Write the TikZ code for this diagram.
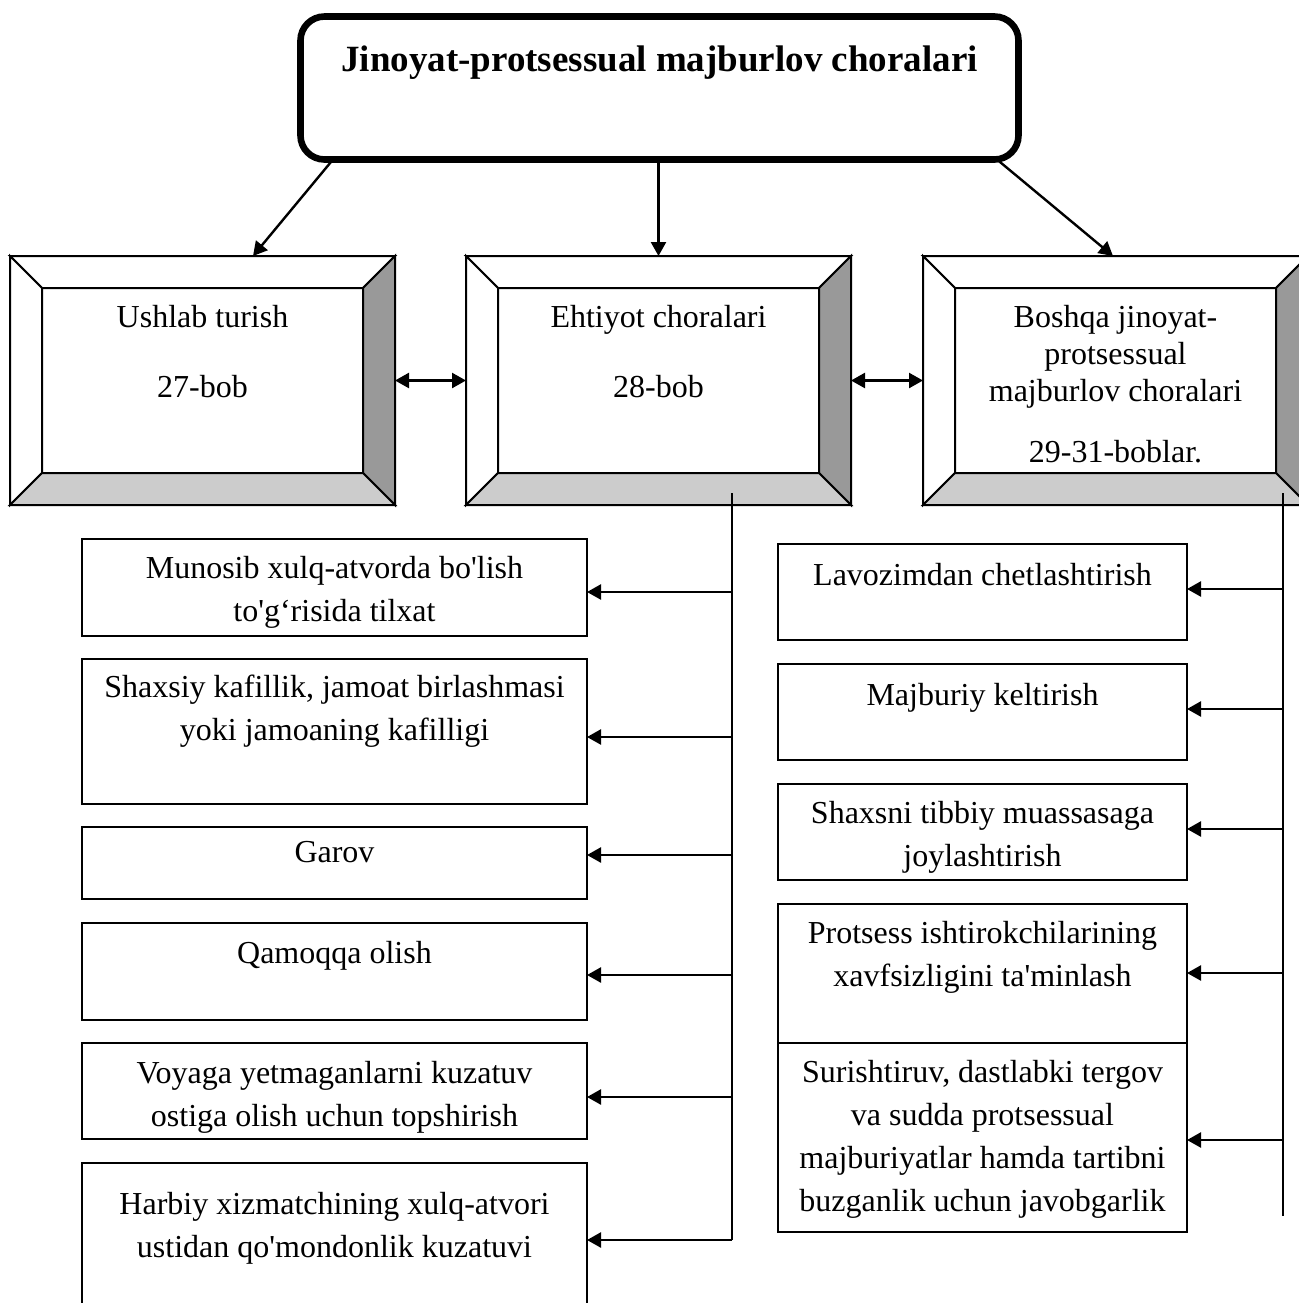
\documentclass[tikz,border=0pt]{standalone}
\usepackage{fontspec}
\setmainfont{Liberation Serif}
\usetikzlibrary{arrows.meta,calc}

\definecolor{bevdark}{HTML}{999999}
\definecolor{bevlight}{HTML}{CCCCCC}

% centred block of lines whose first baseline is the box baseline
\newcommand\txtrows[1]{\begin{tabular}[t]{@{}c@{}}#1\end{tabular}}
\newcommand\q{\textquotesingle}

% four bevelled faces and the inner panel of a framed box node
\newcommand\bevelfaces[1]{%
  \coordinate (#1-ia) at ($(#1.north west)+(32,32)$);
  \coordinate (#1-ib) at ($(#1.north east)+(-32,32)$);
  \coordinate (#1-ic) at ($(#1.south east)+(-32,-32)$);
  \coordinate (#1-id) at ($(#1.south west)+(32,-32)$);
  \filldraw[face,fill=white] (#1.north west) -- (#1.north east) -- (#1-ib) -- (#1-ia) -- cycle;
  \filldraw[face,fill=white] (#1.north west) -- (#1-ia) -- (#1-id) -- (#1.south west) -- cycle;
  \filldraw[face,fill=bevdark] (#1.north east) -- (#1.south east) -- (#1-ic) -- (#1-ib) -- cycle;
  \filldraw[face,fill=bevlight] (#1.south west) -- (#1-id) -- (#1-ic) -- (#1.south east) -- cycle;
  \draw[face] (#1-ia) rectangle (#1-ic);
}

\begin{document}
\begin{tikzpicture}[x=0.5pt,y=-0.5pt,
  every node/.style={inner sep=0pt,outer sep=0pt},
  >={Triangle[length=7pt,width=7.5pt]},
  face/.style={draw,line width=1pt,line join=miter},
  bevelbox/.style={rectangle,minimum width=192.5pt,minimum height=124.5pt},
  leftbox/.style={draw,line width=1pt,rectangle,minimum width=252.5pt},
  rightbox/.style={draw,line width=1pt,rectangle,minimum width=204.5pt},
  body/.style={anchor=base,font=\fontsize{16pt}{21.5pt}\selectfont},
  bevtext/.style={anchor=base,font=\fontsize{16pt}{18.5pt}\selectfont},
  conn/.style={line width=1.2pt},
  spine/.style={line width=1.1pt}
]
\useasboundingbox (0,0) rectangle (1299,1303);
\clip (0,0) rectangle (1299,1303);
\fill[white] (0,0) rectangle (1299,1303);

% heading
\node[draw,line width=3.3pt,rounded corners=12pt,minimum width=359pt,minimum height=71.5pt]
  (top) at (659.5,88) {};
\node[anchor=base,font=\fontsize{18.5pt}{22pt}\selectfont\bfseries] (title) at (659.5,71)
  {Jinoyat-protsessual majburlov choralari};

% three framed groups
\node[bevelbox] (b1) at (202.5,380.5) {};
\node[bevelbox] (b2) at (658.5,380.5) {};
\node[bevelbox] (b3) at (1115.5,380.5) {};
\bevelfaces{b1}
\bevelfaces{b2}
\bevelfaces{b3}
\node[bevtext] (tb1) at (202.5,327) {\txtrows{Ushlab turish\\[16.5pt]27-bob}};
\node[bevtext] (tb2) at (658.5,327) {\txtrows{Ehtiyot choralari\\[16.5pt]28-bob}};
\node[bevtext] (tb3) at (1115.5,327)
  {\txtrows{Boshqa jinoyat-\\protsessual\\majburlov choralari\\[12pt]29-31-boblar.}};

\draw[conn,->] (top.south -| 333,0) -- (b1.north -| 253,0);
\draw[conn,->] (top.south -| b2.north) -- (b2.north);
\draw[conn,->] (top.south -| 997,0) -- (b3.north -| 1113,0);
\draw[conn,<->] (b1.east) -- (b2.west);
\draw[conn,<->] (b2.east) -- (b3.west);

% preventive measures
\node[leftbox,minimum height=48.5pt] (m1) at (334.5,587.5) {};
\node[leftbox,minimum height=72.5pt] (m2) at (334.5,731.5) {};
\node[leftbox,minimum height=36pt]   (m3) at (334.5,863) {};
\node[leftbox,minimum height=48.5pt] (m4) at (334.5,971.5) {};
\node[leftbox,minimum height=48pt]   (m5) at (334.5,1091) {};
\node[leftbox,minimum height=96pt]   (m6) at (334.5,1259) {};
\node[body] (tm1) at (334.5,578) {\txtrows{Munosib xulq-atvorda bo\q lish\\to\q g‘risida tilxat}};
\node[body] (tm2) at (334.5,697) {\txtrows{Shaxsiy kafillik, jamoat birlashmasi\\yoki jamoaning kafilligi}};
\node[body] (tm3) at (334.5,862) {Garov};
\node[body] (tm4) at (334.5,963) {Qamoqqa olish};
\node[body] (tm5) at (334.5,1083) {\txtrows{Voyaga yetmaganlarni kuzatuv\\ostiga olish uchun topshirish}};
\node[body] (tm6) at (334.5,1214) {\txtrows{Harbiy xizmatchining xulq-atvori\\ustidan qo\q mondonlik kuzatuvi}};

% other coercive measures
\node[rightbox,minimum height=48pt]   (r1) at (982.5,592) {};
\node[rightbox,minimum height=48pt]   (r2) at (982.5,712) {};
\node[rightbox,minimum height=48pt]   (r3) at (982.5,832) {};
\node[rightbox,minimum height=69.5pt] (r4) at (982.5,973.5) {};
\node[rightbox,minimum height=94.5pt] (r5) at (982.5,1137.5) {};
\node[body] (tr1) at (982.5,585) {Lavozimdan chetlashtirish};
\node[body] (tr2) at (982.5,705) {Majburiy keltirish};
\node[body] (tr3) at (982.5,823) {\txtrows{Shaxsni tibbiy muassasaga\\joylashtirish}};
\node[body] (tr4) at (982.5,943) {\txtrows{Protsess ishtirokchilarining\\xavfsizligini ta\q minlash}};
\node[body] (tr5) at (982.5,1082)
  {\txtrows{Surishtiruv, dastlabki tergov\\va sudda protsessual\\majburiyatlar hamda tartibni\\buzganlik uchun javobgarlik}};

% left distribution line
\coordinate (sl0) at (732,493);
\coordinate (sl1) at (732,592);
\coordinate (sl2) at (732,737);
\coordinate (sl3) at (732,855);
\coordinate (sl4) at (732,975);
\coordinate (sl5) at (732,1097);
\coordinate (sl6) at (732,1240);
\draw[spine] (sl0) -- (sl6);
\foreach \i in {1,...,6} \draw[conn,->] (sl\i) -- (sl\i -| m\i.east);

% right distribution line
\coordinate (sr0) at (1283,493);
\coordinate (sr1) at (1283,589);
\coordinate (sr2) at (1283,709);
\coordinate (sr3) at (1283,829);
\coordinate (sr4) at (1283,973);
\coordinate (sr5) at (1283,1140);
\coordinate (sr6) at (1283,1216);
\draw[spine] (sr0) -- (sr6);
\foreach \i in {1,...,5} \draw[conn,->] (sr\i) -- (sr\i -| r\i.east);
\end{tikzpicture}
\end{document}
